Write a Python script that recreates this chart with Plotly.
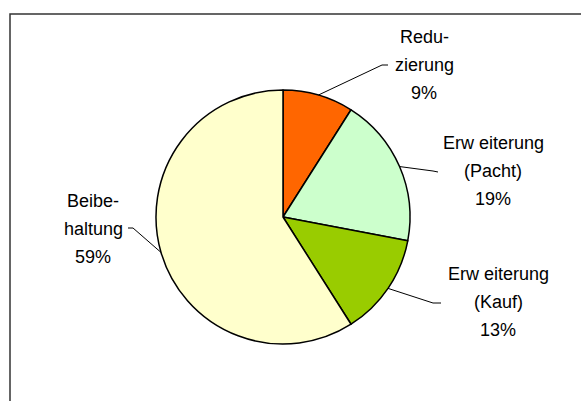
import math
import plotly.graph_objects as go

# slice data, clockwise from 12 o'clock
labels = ["Reduzierung", "Erweiterung (Pacht)", "Erweiterung (Kauf)", "Beibehaltung"]
values = [9, 19, 13, 59]
colors = ["#FF6600", "#CCFFCC", "#99CC00", "#FFFFCC"]
label_lines = [["Redu-", "zierung"], ["Erw eiterung", "(Pacht)"], ["Erw eiterung", "(Kauf)"], ["Beibe-", "haltung"]]

W, H = 581, 401
CX, CY, R = 283, 217, 127      # pie centre / radius in px
FONT = dict(family="Liberation Sans, Arial, sans-serif", size=18, color="#000000")
LINE_GAP = 28

# label block centre (first line) and leader line elbow/end, in px
label_pos = [(424, 37), (493, 143), (498, 274), (93, 201)]
leader_pts = [[(382, 65), (388, 65)], [(433, 171), (438, 172)],
              [(433, 303), (441, 303)], [(133, 228), (128, 228)]]


def px(x, y):
    return x / W, 1 - y / H


fig = go.Figure(go.Pie(
    labels=labels,
    values=values,
    sort=False,
    direction="clockwise",
    rotation=0,
    marker=dict(colors=colors, line=dict(color="#000000", width=1.5)),
    textinfo="none",
    hoverinfo="label+percent",
    domain=dict(x=[(CX - R) / W, (CX + R) / W], y=[1 - (CY + R) / H, 1 - (CY - R) / H]),
))

shapes = [dict(type="rect", xref="paper", yref="paper",
               x0=10 / W, x1=1.1, y0=-0.1, y1=1 - 14 / H,
               line=dict(color="#333333", width=1.5))]
annotations = []

total = sum(values)
cum = 0
for i, v in enumerate(values):
    a = 2 * math.pi * (cum + v / 2) / total
    cum += v
    ex, ey = CX + R * math.sin(a), CY - R * math.cos(a)
    pts = [(ex, ey)] + leader_pts[i]
    path = "M " + " L ".join(f"{px(x, y)[0]},{px(x, y)[1]}" for x, y in pts)
    shapes.append(dict(type="path", xref="paper", yref="paper", path=path,
                       line=dict(color="#000000", width=1)))

    lx, ly = label_pos[i]
    lines = label_lines[i] + [f"{v}%"]
    for j, t in enumerate(lines):
        x, y = px(lx, ly + j * LINE_GAP)
        annotations.append(dict(x=x, y=y, xref="paper", yref="paper", text=t,
                                showarrow=False, xanchor="center", yanchor="middle",
                                font=FONT))

fig.update_layout(
    width=W, height=H,
    margin=dict(l=0, r=0, t=0, b=0),
    paper_bgcolor="white",
    plot_bgcolor="white",
    showlegend=False,
    shapes=shapes,
    annotations=annotations,
)

# drop the default 8px page margin so the figure sits at the window's corner
fig.write_html("out.html", config={"displayModeBar": False},
               post_script="document.body.style.margin = '0';")
